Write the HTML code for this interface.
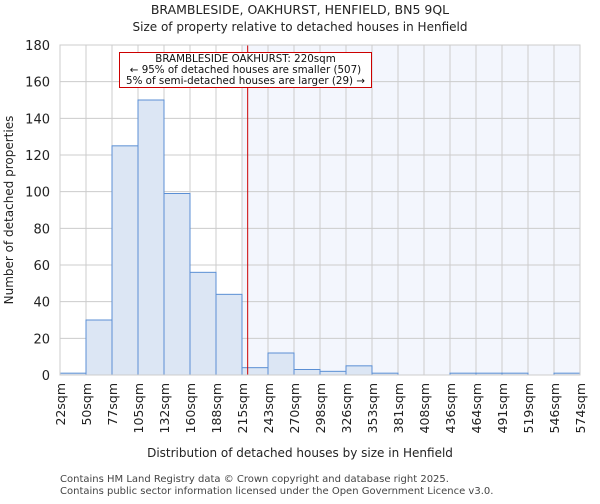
<!DOCTYPE html>
<html><head><meta charset="utf-8"><style>
body{margin:0;background:#fff;font-family:"DejaVu Sans","Liberation Sans",sans-serif;}
svg text{font-family:"DejaVu Sans","Liberation Sans",sans-serif;}
</style></head><body>
<svg id="c" width="600" height="500" xmlns="http://www.w3.org/2000/svg">
<text x="300" y="14" text-anchor="middle" font-size="12.5" fill="#222">BRAMBLESIDE, OAKHURST, HENFIELD, BN5 9QL</text>
<text x="300" y="31" text-anchor="middle" font-size="12" fill="#222">Size of property relative to detached houses in Henfield</text>
<g id="plot"></g>
<text x="300" y="457" text-anchor="middle" font-size="12" fill="#222">Distribution of detached houses by size in Henfield</text>
<text transform="translate(13,210) rotate(-90)" text-anchor="middle" font-size="12" fill="#222">Number of detached properties</text>
<text x="60" y="482" font-size="10" fill="#444">Contains HM Land Registry data © Crown copyright and database right 2025.</text>
<text x="60" y="494" font-size="10" fill="#444">Contains public sector information licensed under the Open Government Licence v3.0.</text>
</svg>
<script>
const categories=["22sqm","50sqm","77sqm","105sqm","132sqm","160sqm","188sqm","215sqm","243sqm","270sqm","298sqm","326sqm","353sqm","381sqm","408sqm","436sqm","464sqm","491sqm","519sqm","546sqm","574sqm"];
const counts=[1,30,125,150,99,56,44,4,12,3,2,5,1,0,0,1,1,1,0,1];
const yTicks=[0,20,40,60,80,100,120,140,160,180];
const markerBin=7.18;
const highlightStartBin=7;
const L=60,R=580,T=45,B=375,YMAX=180;
const nb=counts.length;
const xs=i=>L+(R-L)*i/nb;
const ys=v=>B-(B-T)*v/YMAX;
const NS="http://www.w3.org/2000/svg";
const g=document.getElementById('plot');
function mk(t,a){const e=document.createElementNS(NS,t);for(const k in a)e.setAttribute(k,a[k]);g.appendChild(e);return e;}
let e=mk('rect',{x:xs(highlightStartBin),y:T,width:R-xs(highlightStartBin),height:B-T,fill:'#f3f6fd'});


for(let i=0;i<=nb;i++){e=mk('line',{x1:xs(i),x2:xs(i),y1:T,y2:B,stroke:'#ccc','stroke-width':1});

}
yTicks.forEach(v=>{e=mk('line',{x1:L,x2:R,y1:ys(v),y2:ys(v),stroke:'#ccc','stroke-width':1});


e=mk('text',{x:L-10,y:ys(v)+5,'text-anchor':'end','font-size':13,fill:'#222'});e.textContent=v;

});
counts.forEach((v,i)=>{e=mk('rect',{x:xs(i),y:ys(v),width:xs(i+1)-xs(i),height:B-ys(v),fill:'#dce6f4',stroke:'#5b8fd4','stroke-width':1});

});
categories.forEach((c,i)=>{e=mk('text',{transform:`translate(${xs(i)+5},${B+8}) rotate(-90)`,'text-anchor':'end','font-size':12.5,fill:'#222'});e.textContent=c;

});
e=mk('line',{x1:xs(markerBin)+1,x2:xs(markerBin)+1,y1:T,y2:B,stroke:'#c00','stroke-width':1});


e=mk('rect',{x:119.5,y:52.5,width:252,height:35,fill:'#fff',stroke:'#c00','stroke-width':1});


["BRAMBLESIDE OAKHURST: 220sqm","← 95% of detached houses are smaller (507)","5% of semi-detached houses are larger (29) →"].forEach((t,i)=>{e=mk('text',{x:245.5,y:62+i*11,'text-anchor':'middle','font-size':10.3,fill:'#111'});e.textContent=t;

});
e=mk('rect',{x:L,y:T,width:R-L,height:B-T,fill:'none',stroke:'#ccc','stroke-width':1});


</script>
</body></html>
